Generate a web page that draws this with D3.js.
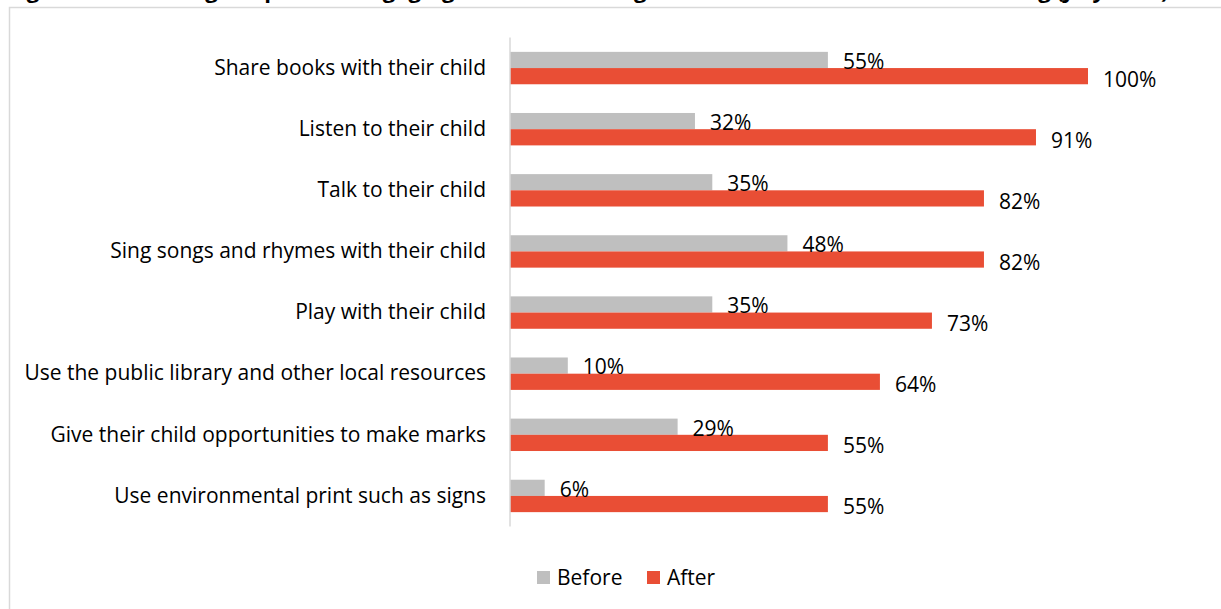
<!DOCTYPE html>
<html>
<head>
<meta charset="utf-8">
<script src="https://cdn.jsdelivr.net/npm/d3@7"></script>
<style>
  html, body { margin: 0; padding: 0; background: #fff; }
  svg { display: block; }
  text { font-family: "Open Sans", Lato, sans-serif; }
</style>
</head>
<body>
<svg id="chart" width="1221" height="609"></svg>
<script>
// Share of parents doing each activity, before and after the programme (%)
const categories = [
  "Share books with their child",
  "Listen to their child",
  "Talk to their child",
  "Sing songs and rhymes with their child",
  "Play with their child",
  "Use the public library and other local resources",
  "Give their child opportunities to make marks",
  "Use environmental print such as signs"
];
const before = [55, 32, 35, 48, 35, 10, 29, 6];
const after = [100, 91, 82, 82, 73, 64, 55, 55];
const seriesNames = ["Before", "After"];
const seriesColors = ["#bfbfbf", "#e94e35"];
const titleText = "Figure 6: Percentage of parents engaging in home learning activities before and after attending (July 2019)";

const svg = d3.select("#chart");
const W = 1221, H = 609;
const fontSize = 21;
const textFont = "'Open Sans', Lato, sans-serif";

// Title sits above the chart frame, running off the top of the page
svg.append("text")
  .attr("x", 8)
  .attr("y", -2)
  .attr("font-size", 22)
  .attr("font-weight", "bold")
  .attr("fill", "#000")
  .text(titleText);

// Chart frame
svg.append("rect")
  .attr("x", 9.5).attr("y", 7.5)
  .attr("width", W + 10).attr("height", H + 10)
  .attr("fill", "#fff")
  .attr("stroke", "#d9d9d9")
  .attr("stroke-width", 1.5);

const x = d3.scaleLinear().domain([0, 100]).range([510, 1088]);
const y = d3.scaleBand().domain(categories).range([37.5, 526.5]).paddingInner(0.47).paddingOuter(0.235);
const sub = d3.scaleBand().domain(seriesNames).range([0, y.bandwidth()]);

// Category axis on the left
const yAxis = d3.axisLeft(y).tickSize(0).tickPadding(24);
const gy = svg.append("g").attr("transform", `translate(${x(0)},0)`).call(yAxis);
gy.select(".domain").remove();
gy.selectAll("text")
  .attr("font-size", fontSize)
  .attr("fill", "#000")
  .attr("font-family", textFont);

const rows = categories.map((c, i) => ({ cat: c, values: [before[i], after[i]] }));

const groups = svg.append("g").selectAll("g")
  .data(rows).join("g")
  .attr("transform", d => `translate(0,${y(d.cat)})`);

groups.selectAll("rect")
  .data(d => d.values.map((v, j) => ({ v, s: seriesNames[j], j })))
  .join("rect")
  .attr("x", x(0))
  .attr("y", d => sub(d.s))
  .attr("width", d => x(d.v) - x(0))
  .attr("height", sub.bandwidth())
  .attr("fill", d => seriesColors[d.j]);

groups.selectAll("text.val")
  .data(d => d.values.map((v, j) => ({ v, s: seriesNames[j], j })))
  .join("text")
  .attr("class", "val")
  .attr("x", d => x(d.v) + 15)
  .attr("y", d => sub(d.s) + sub.bandwidth() / 2 + (d.j === 0 ? 1.5 : 3))
  .attr("dy", "0.35em")
  .attr("font-size", fontSize)
  .attr("fill", "#000")
  .text(d => d.v + "%");

// Value axis line
svg.append("line")
  .attr("x1", x(0)).attr("x2", x(0))
  .attr("y1", 37.5).attr("y2", 526.5)
  .attr("stroke", "#d9d9d9")
  .attr("stroke-width", 1.5);

// Legend
const legend = svg.append("g").attr("transform", "translate(537,578)");
const legendX = [0, 110];
seriesNames.forEach((name, i) => {
  const g = legend.append("g").attr("transform", `translate(${legendX[i]},0)`);
  g.append("rect").attr("x", 0).attr("y", -7).attr("width", 13).attr("height", 13).attr("fill", seriesColors[i]);
  g.append("text").attr("x", 20).attr("y", 0).attr("dy", "0.35em")
    .attr("font-size", fontSize).attr("fill", "#000").text(name);
});
</script>
</body>
</html>
